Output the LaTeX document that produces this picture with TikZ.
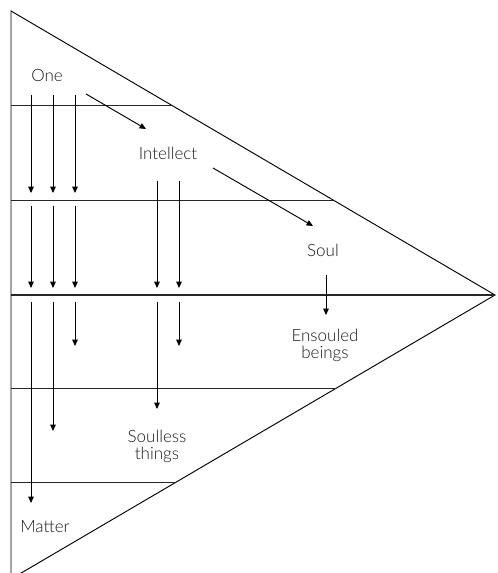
\documentclass[tikz,border=0pt]{standalone}
\usepackage{fontspec}
\setmainfont{Lato Light}
\usetikzlibrary{arrows.meta}

\begin{document}
\begin{tikzpicture}[
     x=0.03cm,y=-0.03cm,
     level/.style={line width=0.8pt,draw=black!85},
     flow/.style={-{Triangle[length=5.5pt,width=4.8pt]},line width=0.8pt},
     stage/.style={inner sep=0pt,align=center,text=black!90,
       font=\fontsize{14.5}{14.5}\selectfont}
   ]
   \path[use as bounding box] (0,0) rectangle (497,573);
   \clip (0,0) rectangle (497,573);
   % Triangle.
   \coordinate (top) at (11,11);
   \coordinate (apex) at (495,295);
   \coordinate (bottom) at (11,579);
   \draw[line width=0.8pt] (bottom) -- (top) -- (apex) -- (bottom);
   % Levels.
   \draw[level] (11,105) -- (171,105);
   \draw[level] (11,200) -- (333,200);
   \draw[line width=1.8pt,draw=black!85] (11,295) -- (apex);
   \draw[level] (11,388) -- (336,388);
   \draw[level] (11,482) -- (176,482);
   % Stages.
   \node[stage] (one) at (47,75) {One};
   \node[stage] (intellect) at (168,153) {Intellect};
   \node[stage] (soul) at (323,250) {Soul};
   \node[stage] (ensouled) at (325,345) {Ensouled\\beings};
   \node[stage] (soulless) at (157,446) {Soulless\\things};
   \node[stage] (matter) at (45,527) {Matter};
   % Ends of the emanations.
   \coordinate (a1) at (31,95);  \coordinate (a2) at (31,193);
   \coordinate (a3) at (31,206); \coordinate (a4) at (31,288);
   \coordinate (a5) at (31,302); \coordinate (a6) at (31,503);
   \coordinate (b1) at (53,95);  \coordinate (b2) at (53,193);
   \coordinate (b3) at (53,206); \coordinate (b4) at (53,288);
   \coordinate (b5) at (53,302); \coordinate (b6) at (53,431);
   \coordinate (c1) at (75,95);  \coordinate (c2) at (75,193);
   \coordinate (c3) at (75,206); \coordinate (c4) at (75,288);
   \coordinate (c5) at (75,302); \coordinate (c6) at (75,346);
   \coordinate (d1) at (157,181); \coordinate (d2) at (157,288);
   \coordinate (d3) at (157,302); \coordinate (d4) at (157,409);
   \coordinate (e1) at (179,181); \coordinate (e2) at (179,288);
   \coordinate (e3) at (179,302); \coordinate (e4) at (179,346);
   \coordinate (f1) at (86,94);   \coordinate (f2) at (146,129);
   \coordinate (g1) at (213,168); \coordinate (g2) at (313,226);
   \coordinate (h1) at (326,275); \coordinate (h2) at (326,315);
   % Emanations from the One.
   \draw[flow] (a1) -- (a2);
   \draw[flow] (b1) -- (b2);
   \draw[flow] (c1) -- (c2);
   \draw[flow] (a3) -- (a4);
   \draw[flow] (b3) -- (b4);
   \draw[flow] (c3) -- (c4);
   \draw[flow] (a5) -- (a6);
   \draw[flow] (b5) -- (b6);
   \draw[flow] (c5) -- (c6);
   % Emanations from Intellect.
   \draw[flow] (d1) -- (d2);
   \draw[flow] (e1) -- (e2);
   \draw[flow] (d3) -- (d4);
   \draw[flow] (e3) -- (e4);
   % Pointers.
   \draw[flow] (f1) -- (f2);
   \draw[flow] (g1) -- (g2);
   \draw[flow] (h1) -- (h2);
 \end{tikzpicture}
\end{document}
